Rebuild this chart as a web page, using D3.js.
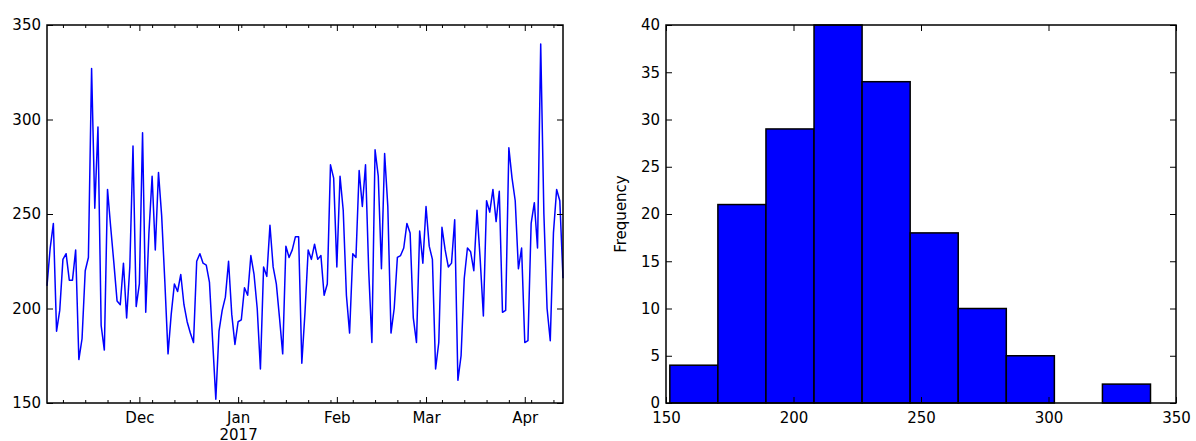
<!DOCTYPE html>
<html>
<head>
<script src="https://d3js.org/d3.v7.min.js"></script>
<style>
  body { margin: 0; background: #fff; }
  text { font-family: "DejaVu Sans", sans-serif; font-size: 15px; fill: #000; }
</style>
</head>
<body>
<script>
  var width = 1196;
  var height = 441;

  // daily series, starting 2 Nov 2016
  var startDate = "2016-11-02";
  var dailyValues = [
    212, 232, 245, 188, 199, 226, 229, 215, 215, 231,
    173, 184, 220, 227, 327, 253, 296, 191, 178, 263,
    243, 224, 204, 202, 224, 195, 222, 286, 201, 213,
    293, 198, 240, 270, 231, 272, 249, 214, 176, 197,
    213, 209, 218, 202, 193, 187, 182, 225, 229, 224,
    223, 214, 183, 152, 188, 199, 206, 225, 197, 181,
    193, 194, 211, 207, 228, 218, 200, 168, 222, 217,
    244, 222, 213, 195, 176, 233, 227, 231, 238, 238,
    171, 198, 231, 226, 234, 226, 228, 207, 213, 276,
    269, 222, 270, 252, 207, 187, 229, 227, 273, 254,
    276, 220, 182, 284, 270, 221, 282, 254, 187, 200,
    227, 228, 232, 245, 240, 195, 182, 241, 224, 254,
    233, 226, 168, 182, 243, 231, 222, 224, 247, 162,
    175, 216, 232, 230, 220, 252, 226, 196, 257, 251,
    263, 246, 262, 198, 199, 285, 269, 257, 221, 232,
    182, 183, 245, 256, 232, 340, 250, 200, 183, 240,
    263, 257, 216
  ];
  var lineTicksY = [150, 200, 250, 300, 350];

  // histogram
  var binEdges = [151.5, 170.35, 189.2, 208.05, 226.9, 245.75, 264.6, 283.45, 302.3, 321.15, 340];
  var binCounts = [4, 21, 29, 40, 34, 18, 10, 5, 0, 2];
  var histTicksX = [150, 200, 250, 300, 350];
  var histTicksY = [0, 5, 10, 15, 20, 25, 30, 35, 40];

  var svg = d3.select("body").append("svg")
    .attr("width", width)
    .attr("height", height);

  var plotTop = 25, plotBottom = 403;

  //---------------- left: time series
  var t0 = d3.timeParse("%Y-%m-%d")(startDate);
  var series = dailyValues.map(function(v, i) {
    return {date: d3.timeDay.offset(t0, i), value: v};
  });

  var lx0 = 47, lx1 = 563;
  var x = d3.scaleTime()
    .domain(d3.extent(series, function(d) { return d.date; }))
    .range([lx0, lx1]);
  var y = d3.scaleLinear().domain([150, 350]).range([plotBottom, plotTop]);

  var dEnd = d3.timeDay.offset(x.domain()[1], 1);
  var months = d3.timeMonth.range(x.domain()[0], dEnd);
  var mondays = d3.timeMonday.range(x.domain()[0], dEnd);

  svg.append("path")
    .datum(series)
    .attr("fill", "none")
    .attr("stroke", "#0000ff")
    .attr("stroke-width", 1.5)
    .attr("stroke-linejoin", "round")
    .attr("d", d3.line()
      .x(function(d) { return x(d.date); })
      .y(function(d) { return y(d.value); }));

  var gxb = svg.append("g").attr("transform", "translate(0," + plotBottom + ")")
    .call(d3.axisBottom(x).tickValues(months).tickSize(-6).tickSizeOuter(0).tickPadding(9)
      .tickFormat(d3.timeFormat("%b")));
  gxb.selectAll(".tick text").each(function(d) {
    if (d.getMonth() == 0) {
      d3.select(this).append("tspan").attr("x", 0).attr("dy", "1.15em").text(d3.timeFormat("%Y")(d));
    }
  });
  svg.append("g").attr("transform", "translate(0," + plotBottom + ")")
    .call(d3.axisBottom(x).tickValues(mondays).tickSize(-3).tickSizeOuter(0).tickFormat(""));
  svg.append("g").attr("transform", "translate(0," + plotTop + ")")
    .call(d3.axisTop(x).tickValues(months).tickSize(-6).tickSizeOuter(0).tickFormat(""));
  svg.append("g").attr("transform", "translate(0," + plotTop + ")")
    .call(d3.axisTop(x).tickValues(mondays).tickSize(-3).tickSizeOuter(0).tickFormat(""));

  svg.append("g").attr("transform", "translate(" + lx0 + ",0)")
    .call(d3.axisLeft(y).tickValues(lineTicksY).tickSize(-6).tickSizeOuter(0).tickPadding(6));
  svg.append("g").attr("transform", "translate(" + lx1 + ",0)")
    .call(d3.axisRight(y).tickValues(lineTicksY).tickSize(-6).tickSizeOuter(0).tickFormat(""));

  svg.append("rect")
    .attr("x", lx0).attr("y", plotTop)
    .attr("width", lx1 - lx0).attr("height", plotBottom - plotTop)
    .attr("fill", "none").attr("stroke", "#000").attr("stroke-width", 1.5);

  //---------------- right: histogram
  var hx0 = 666, hx1 = 1176;
  var xh = d3.scaleLinear().domain([150, 350]).range([hx0, hx1]);
  var yh = d3.scaleLinear().domain([0, 40]).range([plotBottom, plotTop]);

  var bins = binCounts.map(function(c, i) {
    return {x0: binEdges[i], x1: binEdges[i + 1], count: c};
  }).filter(function(b) { return b.count > 0; });

  svg.selectAll("rect.bar").data(bins).enter()
    .append("rect")
    .attr("class", "bar")
    .attr("x", function(b) { return xh(b.x0); })
    .attr("width", function(b) { return xh(b.x1) - xh(b.x0); })
    .attr("y", function(b) { return yh(b.count); })
    .attr("height", function(b) { return yh(0) - yh(b.count); })
    .attr("fill", "#0000ff")
    .attr("stroke", "#000")
    .attr("stroke-width", 1.5);

  svg.append("g").attr("transform", "translate(0," + plotBottom + ")")
    .call(d3.axisBottom(xh).tickValues(histTicksX).tickSize(-6).tickSizeOuter(0).tickPadding(9));
  svg.append("g").attr("transform", "translate(0," + plotTop + ")")
    .call(d3.axisTop(xh).tickValues(histTicksX).tickSize(-6).tickSizeOuter(0).tickFormat(""));
  svg.append("g").attr("transform", "translate(" + hx0 + ",0)")
    .call(d3.axisLeft(yh).tickValues(histTicksY).tickSize(-6).tickSizeOuter(0).tickPadding(6));
  svg.append("g").attr("transform", "translate(" + hx1 + ",0)")
    .call(d3.axisRight(yh).tickValues(histTicksY).tickSize(-6).tickSizeOuter(0).tickFormat(""));

  svg.append("rect")
    .attr("x", hx0).attr("y", plotTop)
    .attr("width", hx1 - hx0).attr("height", plotBottom - plotTop)
    .attr("fill", "none").attr("stroke", "#000").attr("stroke-width", 1.5);

  svg.append("text")
    .attr("transform", "translate(626," + ((plotTop + plotBottom) / 2) + ") rotate(-90)")
    .attr("text-anchor", "middle")
    .text("Frequency");

  svg.selectAll(".domain").remove();
  svg.selectAll(".tick text").style("font-size", "15px").style("font-family", "DejaVu Sans, sans-serif").attr("fill", "#000");
  svg.selectAll(".tick line").attr("stroke", "#000");
</script>
</body>
</html>
